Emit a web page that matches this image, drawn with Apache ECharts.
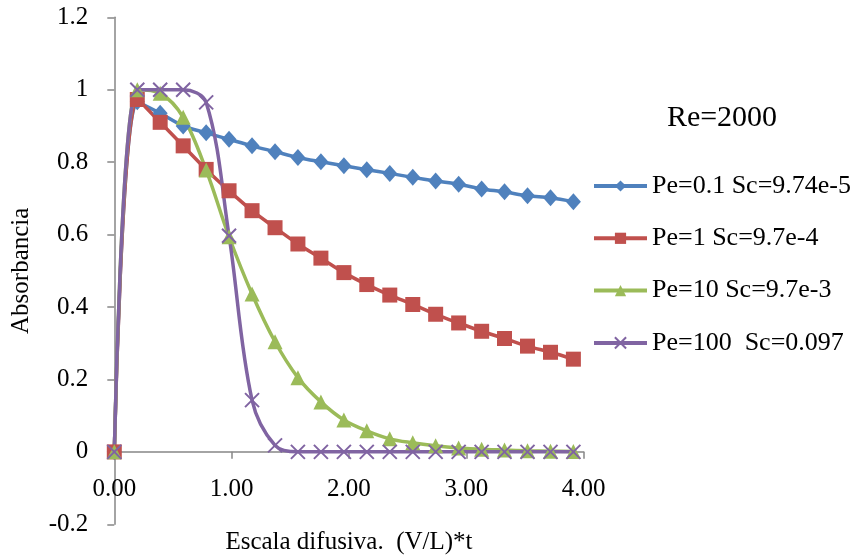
<!DOCTYPE html>
<html>
<head>
<meta charset="utf-8">
<script src="https://cdn.jsdelivr.net/npm/echarts@6/dist/echarts.min.js"></script>
<style>html,body{margin:0;padding:0;background:#fff;}#c{width:863px;height:558px;}</style>
</head>
<body>
<div id="c"></div>
<script>
var xValues = [0, 0.196, 0.391, 0.587, 0.783, 0.978, 1.174, 1.370, 1.565, 1.761, 1.957, 2.152, 2.348, 2.544, 2.739, 2.935, 3.131, 3.326, 3.522, 3.718, 3.913];
var seriesNames = ['Pe=0.1 Sc=9.74e-5', 'Pe=1 Sc=9.7e-4', 'Pe=10 Sc=9.7e-3', 'Pe=100  Sc=0.097'];
var pe01 = [0, 0.967, 0.935, 0.900, 0.881, 0.863, 0.845, 0.829, 0.813, 0.801, 0.790, 0.779, 0.769, 0.758, 0.748, 0.739, 0.726, 0.718, 0.707, 0.702, 0.691];
var pe1 = [0, 0.973, 0.910, 0.845, 0.780, 0.721, 0.666, 0.619, 0.574, 0.535, 0.495, 0.462, 0.433, 0.407, 0.380, 0.356, 0.333, 0.313, 0.292, 0.275, 0.256];
var pe10 = [0, 1.0, 0.990, 0.924, 0.778, 0.594, 0.436, 0.304, 0.205, 0.138, 0.088, 0.058, 0.036, 0.025, 0.017, 0.011, 0.007, 0.005, 0.003, 0.002, 0.001];
var pe100 = [0, 1.0, 1.0, 1.0, 0.965, 0.597, 0.143, 0.018, 0, 0, 0, 0, 0, 0, 0, 0, 0, 0, 0, 0, 0];
var yTicks = [-0.2, 0, 0.2, 0.4, 0.6, 0.8, 1, 1.2];
var xTicks = [0, 1, 2, 3, 4];
var colors = ['#4F81BD', '#C0504D', '#9BBB59', '#8064A2'];
var symbols = ['diamond', 'rect', 'triangle', 'path://M0,0 L10,10 M10,0 L0,10'];
var symbolSizes = [[15, 17], 15, 15, 14];
var allData = [pe01, pe1, pe10, pe100];

var FONT = 'Liberation Serif';
function pairs(ys) { return xValues.map(function (x, i) { return [x, ys[i]]; }); }

var series = allData.map(function (ys, k) {
  var isCross = k === 3;
  return {
    name: seriesNames[k],
    type: 'line',
    data: pairs(ys),
    smooth: 0.35,
    symbol: symbols[k],
    symbolSize: symbolSizes[k],
    showAllSymbol: true,
    lineStyle: { color: colors[k], width: 3.5 },
    itemStyle: isCross ? { color: 'transparent', borderColor: colors[k], borderWidth: 2 } : { color: colors[k], borderWidth: 0 },
    emphasis: { disabled: true },
    animation: false
  };
});

var chart = echarts.init(document.getElementById('c'));
chart.setOption({
  backgroundColor: '#fff',
  animation: false,
  color: colors,
  grid: { left: 114.3, right: 279.4, top: 17.3, bottom: 33.7, containLabel: false, outerBoundsMode: 'none' },
  title: {
    text: 'Re=2000', left: 717, top: 113, textAlign: 'center', textVerticalAlign: 'middle',
    textStyle: { fontFamily: FONT, fontSize: 30, fontWeight: 'normal', color: '#000' }
  },
  legend: {
    orient: 'vertical', left: 592, top: 173, padding: 0,
    itemWidth: 53, itemHeight: 14, itemGap: 26.3,
    data: seriesNames,
    lineStyle: { width: 4 },
    textStyle: { fontFamily: FONT, fontSize: 26, color: '#000', lineHeight: 26, padding: [0, 0, 0, 0] },
    selectedMode: false
  },
  xAxis: {
    type: 'value', min: 0, max: 4, interval: 1,
    name: 'Escala difusiva.  (V/L)*t', nameLocation: 'middle', nameGap: 6,
    nameMoveOverlap: false,
    nameTextStyle: { fontFamily: FONT, fontSize: 25, color: '#000' },
    axisLine: { onZero: true, lineStyle: { color: '#868686', width: 1.5 } },
    axisTick: { show: true, length: 7, lineStyle: { color: '#868686', width: 1.5 } },
    axisLabel: { fontFamily: FONT, fontSize: 25, color: '#000', margin: -47,
      formatter: function (v) { return v.toFixed(2); } },
    splitLine: { show: false }
  },
  yAxis: {
    type: 'value', min: yTicks[0], max: yTicks[yTicks.length - 1], interval: 0.2,
    name: 'Absorbancia', nameLocation: 'middle', nameGap: 80,
    nameTextStyle: { fontFamily: FONT, fontSize: 25, color: '#000' },
    axisLine: { show: true, onZero: false, lineStyle: { color: '#868686', width: 1.5 } },
    axisTick: { show: true, length: 7, lineStyle: { color: '#868686', width: 1.5 } },
    axisLabel: { fontFamily: FONT, fontSize: 25, color: '#000', margin: 26,
      formatter: function (v) { return String(Math.round(v * 10) / 10); } },
    splitLine: { show: false }
  },
  series: series
});
</script>
</body>
</html>
